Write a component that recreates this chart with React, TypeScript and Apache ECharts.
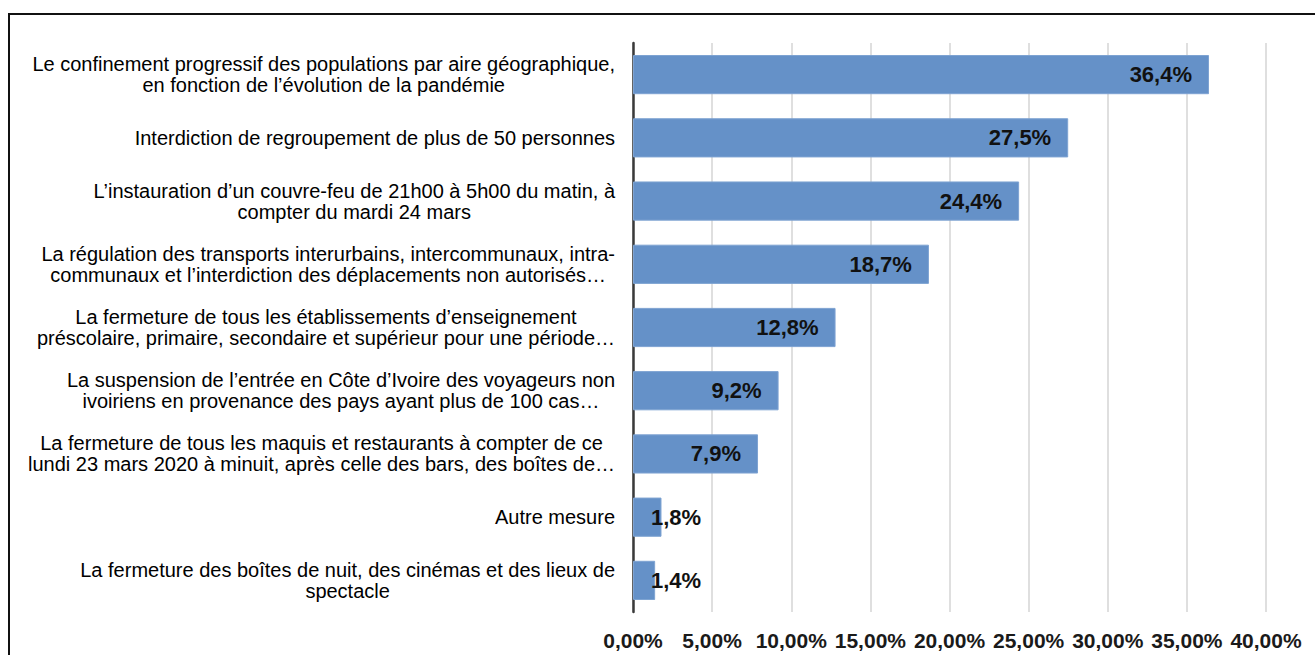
import React, { useEffect, useRef } from "react";
import * as echarts from "echarts";

const categories: string[] = [
  "Le confinement progressif des populations par aire géographique,\nen fonction de l’évolution de la pandémie",
  "Interdiction de regroupement de plus de 50 personnes",
  "L’instauration d’un couvre-feu de 21h00 à 5h00 du matin, à\ncompter du mardi 24 mars",
  "La régulation des transports interurbains, intercommunaux, intra-\ncommunaux et l’interdiction des déplacements non autorisés…",
  "La fermeture de tous les établissements d’enseignement\npréscolaire, primaire, secondaire et supérieur pour une période…",
  "La suspension de l’entrée en Côte d’Ivoire des voyageurs non\nivoiriens en provenance des pays ayant plus de 100 cas…",
  "La fermeture de tous les maquis et restaurants à compter de ce\nlundi 23 mars 2020 à minuit, après celle des bars, des boîtes de…",
  "Autre mesure",
  "La fermeture des boîtes de nuit, des cinémas et des lieux de\nspectacle",
];

const values: number[] = [36.4, 27.5, 24.4, 18.7, 12.8, 9.2, 7.9, 1.8, 1.4];

const FONT = "'Liberation Sans', Arial, sans-serif";

export default function App() {
  const ref = useRef<HTMLDivElement>(null);

  useEffect(() => {
    if (!ref.current) return;
    const chart = echarts.init(ref.current, undefined, { renderer: "svg" });

    const data = values.map((v) =>
      v < 5
        ? { value: v, label: { position: "insideLeft", distance: 18 } }
        : { value: v }
    );

    chart.setOption({
      animation: false,
      backgroundColor: "#ffffff",
      grid: { left: 633, right: 49, top: 43, bottom: 43, containLabel: false },
      graphic: [
        {
          type: "rect",
          shape: { x: 9, y: 14, width: 1400, height: 700 },
          style: { fill: "none", stroke: "#111111", lineWidth: 2 },
          silent: true,
          z: 10,
        },
      ],
      xAxis: {
        type: "value",
        min: 0,
        max: 40,
        interval: 5,
        axisLine: { show: false },
        axisTick: { show: false },
        splitLine: { show: true, lineStyle: { color: "#d4d4d4", width: 1.5 } },
        axisLabel: {
          margin: 18,
          fontFamily: FONT,
          fontSize: 21,
          fontWeight: "bold",
          color: "#1a1a1a",
          formatter: (v: number) => v.toFixed(2).replace(".", ",") + "%",
        },
      },
      yAxis: {
        type: "category",
        inverse: true,
        data: categories,
        axisLine: { show: true, lineStyle: { color: "#3a3a3a", width: 2.5 } },
        axisTick: { show: false },
        axisLabel: {
          margin: 18,
          align: "right",
          formatter: (s: string) =>
            s
              .split("\n")
              .map((l) => "{c|" + l + "}")
              .join("\n"),
          rich: {
            c: {
              align: "center",
              fontFamily: FONT,
              fontSize: 20,
              lineHeight: 21,
              color: "#000000",
            },
          },
        },
      },
      series: [
        {
          type: "bar",
          data,
          barCategoryGap: "38%",
          itemStyle: { color: "#6591c8", borderColor: "#7ea3d2", borderWidth: 1 },
          label: {
            show: true,
            position: "insideRight",
            distance: 17,
            fontFamily: FONT,
            fontSize: 22,
            fontWeight: "bold",
            color: "#111111",
            formatter: (p: any) => String(p.value).replace(".", ",") + "%",
          },
        },
      ],
    });

    return () => chart.dispose();
  }, []);

  return (
    <div
      ref={ref}
      style={{ position: "absolute", left: 0, top: 0, width: 1315, height: 655 }}
    />
  );
}
